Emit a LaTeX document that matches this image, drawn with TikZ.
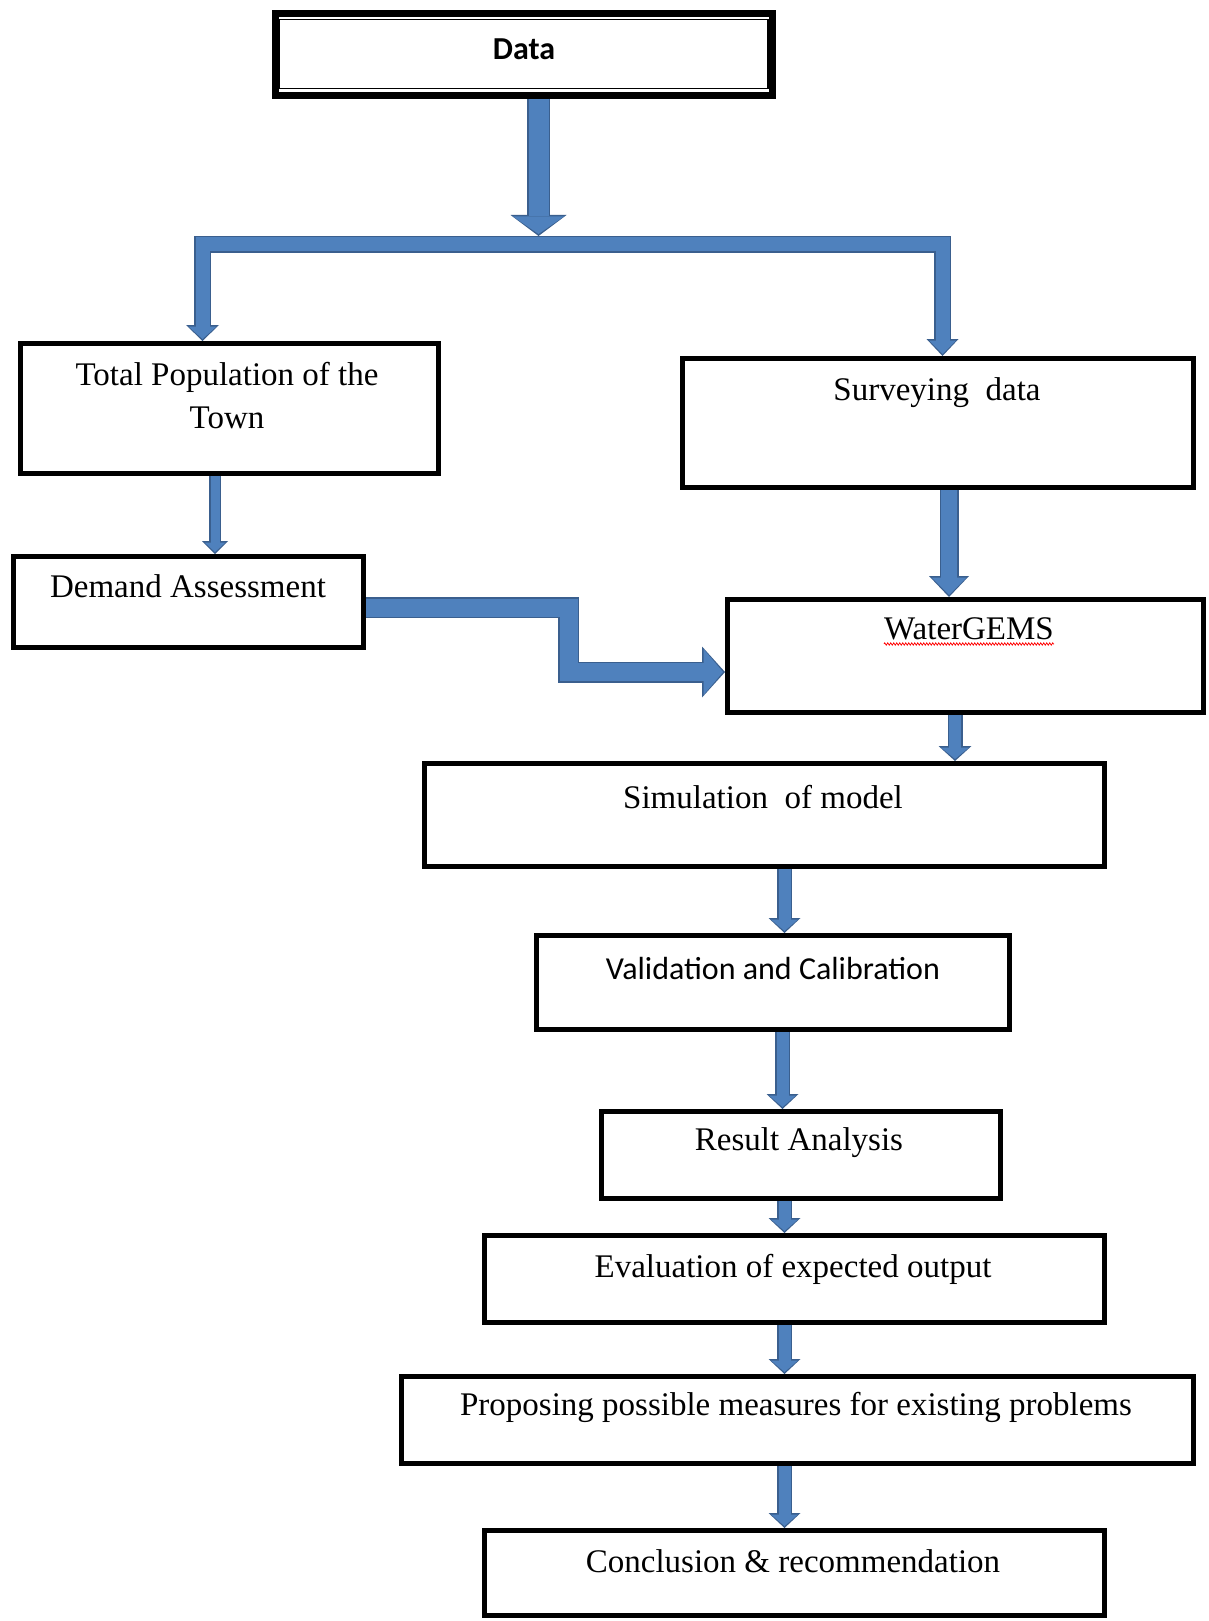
\documentclass[tikz,border=0pt]{standalone}
\usepackage{fontspec}
\setmainfont{Liberation Serif}
\newfontfamily\calibri{Carlito}
\usetikzlibrary{arrows.meta,decorations.pathmorphing}
\definecolor{ablue}{HTML}{4F81BD}
\definecolor{adark}{HTML}{3A5F8E}
\tikzset{
  box/.style={draw=black, line width=5pt, inner sep=0pt},
  txt/.style={inner sep=0pt, anchor=base, font=\fontsize{33}{40}\selectfont},
  ctxt/.style={inner sep=0pt, anchor=base, font=\calibri\fontsize{32}{40}\selectfont},
  blk/.code n args={3}{%
    \pgfmathsetmacro\blkw{#1-3}%
    \pgfmathsetmacro\blkhw{#2-5}%
    \pgfmathsetmacro\blkhl{#3-3.5}%
    \edef\blktmp{\noexpand\tikzset{postaction={draw=ablue,line width=\blkw pt,arrows={-{Triangle[width=\blkhw pt,length=\blkhl pt,line width=0pt]}},shorten >=2pt}}}%
    \blktmp
    \tikzset{line width=#1pt, draw=adark, arrows={-{Triangle[width=#2pt,length=#3pt,line width=0pt]}}}%
  }
}
\begin{document}
\begin{tikzpicture}[x=1pt,y=-1pt]
\fill[white] (0,0) rectangle (1208,1621);
\useasboundingbox (0,0) rectangle (1208,1621);

% boxes
\node[box, line width=7pt, minimum width=497pt, minimum height=82pt] (data) at (524,54.5) {};
\draw[line width=1.3pt] (279.5,19.5) rectangle (768,88.5);
\node[box, minimum width=418pt, minimum height=130pt] (pop) at (229.5,408.5) {};
\node[box, minimum width=511pt, minimum height=129pt] (surv) at (938,423) {};
\node[box, minimum width=350pt, minimum height=91pt] (dem) at (188.5,602) {};
\node[box, minimum width=476pt, minimum height=113pt] (wg) at (965.5,656) {};
\node[box, minimum width=680pt, minimum height=103pt] (sim) at (764.5,815) {};
\node[box, minimum width=473pt, minimum height=94pt] (val) at (773,982.5) {};
\node[box, minimum width=399pt, minimum height=87pt] (res) at (801,1155) {};
\node[box, minimum width=620pt, minimum height=87pt] (eval) at (794.5,1279) {};
\node[box, minimum width=792pt, minimum height=87pt] (prop) at (797.5,1420) {};
\node[box, minimum width=620pt, minimum height=85pt] (conc) at (794.5,1573) {};

% texts
\node[ctxt, font=\calibri\bfseries\fontsize{32}{40}\selectfont] (datat) at (524,60) {Data};
\node[txt] (popa) at (227,385) {Total Population of the};
\node[txt] (popb) at (227,428) {Town};
\node[txt] (survt) at (937,400) {Surveying\ \ data};
\node[txt] (demt) at (188,597) {Demand Assessment};
\node[txt] (wgt) at (969,639) {WaterGEMS};
\node[txt] (simt) at (763,808) {Simulation\ \ of model};
\node[ctxt] (valt) at (773,979) {Validation and Calibration};
\node[txt] (rest) at (799,1150) {Result Analysis};
\node[txt] (evalt) at (793,1277) {Evaluation of expected output};
\node[txt] (propt) at (796,1415) {Proposing possible measures for existing problems};
\node[txt] (conct) at (793,1572) {Conclusion \& recommendation};

\draw[red, line width=0.8pt, decorate, decoration={zigzag, amplitude=1.1pt, segment length=3pt}]
  ([yshift=-5pt]wgt.base west) -- ([yshift=-5pt]wgt.base east);

% connectors
\coordinate (bartop) at (538.5,236);
\coordinate (jn) at (538.5,244.5);
\draw[blk={23}{56}{21}] (data.south -| bartop) -- (bartop);
\draw[blk={17}{33}{16}] (jn) -| (pop.north -| 202.5,0);
\draw[blk={17}{32}{17}] (jn) -| (surv.north -| 942.5,0);
\draw[blk={12}{26}{13}] (pop.south -| 215,0) -- (dem.north -| 215,0);
\draw[blk={19}{40}{21}] (surv.south -| 949,0) -- (wg.north -| 949,0);
\draw[blk={21}{51}{23}] (dem.east |- 0,607.5) -| (568.5,672) -- (wg.west |- 0,672);
\draw[blk={15}{33}{15}] (wg.south -| 955,0) -- (sim.north -| 955,0);
\draw[blk={15}{32}{15}] (sim.south -| 784.5,0) -- (val.north -| 784.5,0);
\draw[blk={15}{32}{15}] (val.south -| 782.5,0) -- (res.north -| 782.5,0);
\draw[blk={15}{32}{15}] (res.south -| 784.5,0) -- (eval.north -| 784.5,0);
\draw[blk={15}{32}{15}] (eval.south -| 784.5,0) -- (prop.north -| 784.5,0);
\draw[blk={15}{32}{15}] (prop.south -| 784.5,0) -- (conc.north -| 784.5,0);
\end{tikzpicture}
\end{document}
